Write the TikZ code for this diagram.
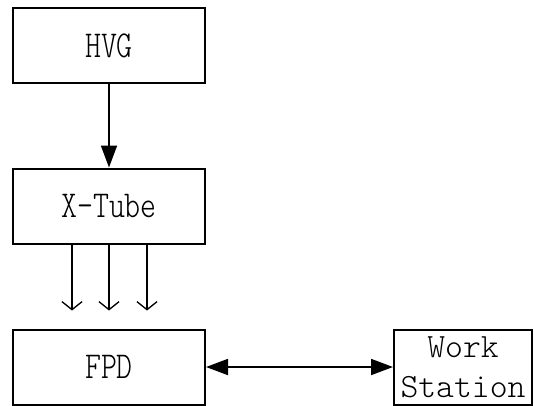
\documentclass[tikz,border=0pt]{standalone}
\usepackage{fontspec}
\setmonofont[FakeStretch=0.8]{Latin Modern Mono Light}
\newfontfamily\wsfont{Latin Modern Mono Light}
\usetikzlibrary{arrows.meta}

\begin{document}
\begin{tikzpicture}[x=1pt,y=-1pt,>=Stealth,
  box/.style={draw,line width=2pt,minimum width=192pt,minimum height=75pt,inner sep=0pt,
    font=\ttfamily\fontsize{38}{40}\selectfont}]
  \clip (0,0) rectangle (534,405);
  \node[box] (hvg) at (109,45.5) {HVG};
  \node[box] (tube) at (109,206) {X-Tube};
  \node[box] (fpd) at (109,367) {FPD};
  \node[box,minimum width=138pt,align=center,font=\wsfont\fontsize{34}{40}\selectfont] (ws) at (463,367) {Work\\Station};
  \draw[->,line width=1.8pt,>={Triangle[length=22pt,width=16pt]}] (hvg) -- (tube);
  % x-rays onto the detector
  \foreach \dx in {-37,0,38}
    \draw[->,line width=1.3pt,>={Straight Barb[length=8pt,width=20pt]}]
      ([xshift=\dx pt]tube.south) -- ([xshift=\dx pt,yshift=-66pt]tube.south);
  \draw[<->,line width=1.8pt,>={Triangle[length=22pt,width=16pt]}] (fpd) -- (ws);
\end{tikzpicture}
\end{document}
